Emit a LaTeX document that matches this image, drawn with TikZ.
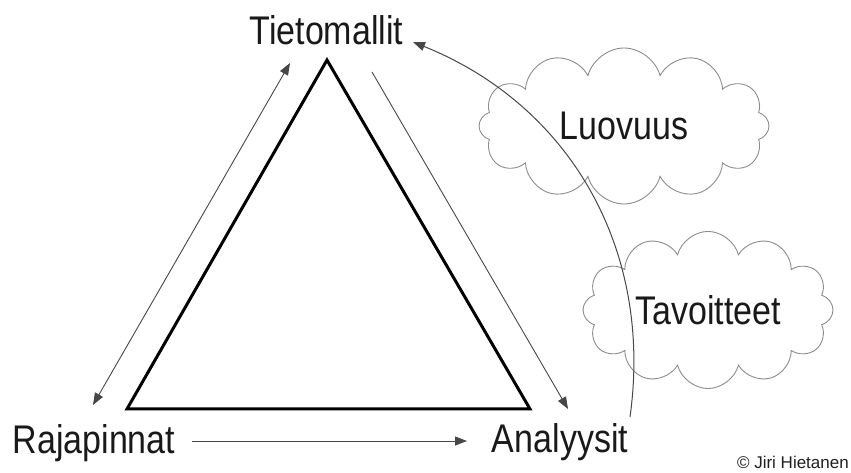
\documentclass[tikz,border=0pt]{standalone}
\usepackage{fontspec}
\newfontfamily\labelfont[FakeStretch=0.85]{Liberation Sans}
\newfontfamily\notefont{Liberation Sans}
\usepackage{tikz}
\usetikzlibrary{arrows.meta, shapes.symbols}

\begin{document}
\begin{tikzpicture}[x=1pt, y=1pt, >={Triangle[length=12pt, width=9pt]},
  corner/.style={anchor=base, inner sep=0pt, text=black!90, font=\labelfont\fontsize{40}{48}\selectfont},
  puff/.style={cloud, cloud puffs=12, draw=black!45, line width=0.9pt, inner sep=0pt, text=black!90, font=\labelfont\fontsize{40}{48}\selectfont},
  link/.style={draw=black!72, line width=0.9pt}]
  \useasboundingbox (0,0) rectangle (851,473);
  % clouds first, the arc goes over them
  \node[puff, aspect=1.85, minimum width=290pt, minimum height=156pt] (luovuus) at (624,347) {Luovuus};
  \node[puff, aspect=1.71, minimum width=250pt, minimum height=146pt] (tavoitteet) at (708,163) {Tavoitteet};
  % the triangle
  \draw[line width=3pt, line join=miter] (127,64) -- (327,413) -- (530,64) -- cycle;
  \node[corner] (tieto) at (326.5,428) {Tietomallit};
  \node[corner] (raja) at (94,19) {Rajapinnat};
  \node[corner] (analyy) at (560,20) {Analyysit};
  \node[anchor=base east, inner sep=0pt, text=black!88, font=\notefont\fontsize{17}{20}\selectfont] (credit) at (849,4) {\textcopyright\ Jiri Hietanen};
  \draw[link, <->] ([shift={(-1,49)}]raja.base) -- ([shift={(-36.5,-18)}]tieto.base);
  \draw[link, ->] ([shift={(45.5,-27)}]tieto.base) -- ([shift={(8,44)}]analyy.base);
  \draw[link, ->] ([shift={(98,13)}]raja.base) -- ([shift={(-93,12)}]analyy.base);
  \draw[link, ->, line width=1pt] ([shift={(70,36)}]analyy.base) to[bend right=38] ([shift={(86.5,3)}]tieto.base);
\end{tikzpicture}
\end{document}
